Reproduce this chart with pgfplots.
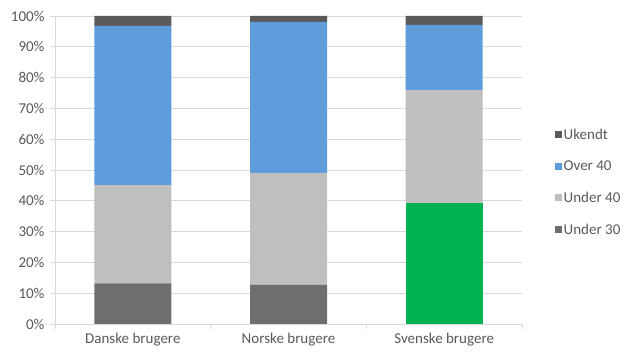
\documentclass[border=0pt]{standalone}
\usepackage{pgfplots}
\pgfplotsset{compat=1.18}
\usepackage{fontspec}
\setmainfont{Carlito}
\definecolor{txt}{HTML}{595959}
\definecolor{dgray}{HTML}{6E6E6E}
\definecolor{ukgray}{HTML}{5A5A5A}
\definecolor{lgray}{HTML}{BFBFBF}
\definecolor{blu}{HTML}{5E9CDB}
\definecolor{grn}{HTML}{00B352}
\definecolor{gridc}{HTML}{D9D9D9}
\begin{document}
\begin{tikzpicture}
\path[use as bounding box] (-55pt,-31pt) rectangle (576pt,324pt);
\begin{axis}[
  at={(0pt,0pt)}, anchor=south west,
  scale only axis, width=467pt, height=308pt,
  ybar stacked, bar width=77pt,
  xmin=-0.5, xmax=2.5, ymin=0, ymax=100,
  xtick={0,1,2},
  xticklabels={Danske brugere, Norske brugere, Svenske brugere},
  minor xtick={-0.5,0.5,1.5,2.5},
  ytick={0,10,...,100},
  yticklabel={\pgfmathprintnumber{\tick}\%},
  /pgf/number format/assume math mode=true,
  axis x line*=bottom, axis y line*=left,
  axis line style={draw=gridc, line width=0.8pt},
  tick align=outside,
  major x tick style={draw=none},
  minor x tick style={draw=gridc, line width=0.8pt},
  major y tick style={draw=gridc, line width=0.8pt},
  major tick length=5pt, minor tick length=5pt,
  ymajorgrids, grid style={draw=gridc, line width=0.8pt},
  tick label style={font=\fontsize{15}{18}\selectfont, text=txt},
  yticklabel style={xshift=-2pt},
  xticklabel style={yshift=-1pt},
  legend style={at={(1,0.46)}, anchor=west, xshift=30pt, draw=none, fill=none,
    font=\fontsize{15}{18}\selectfont, text=txt, row sep=16pt,
    /tikz/every even column/.append style={column sep=0pt},
    nodes={inner xsep=1.5pt}},
  legend cell align=left,
  reverse legend,
  legend image code/.code={\fill[#1] (0pt,-3.5pt) rectangle (7pt,3.5pt);},
  every axis plot/.append style={draw=none},
]
\addplot[fill=dgray] coordinates {(0,13.2) (1,12.7) (2,0)};
\addlegendentry{Under 30}
\addplot[fill=grn, forget plot] coordinates {(0,0) (1,0) (2,39.2)};
\addplot[fill=lgray] coordinates {(0,31.9) (1,36.4) (2,36.8)};
\addlegendentry{Under 40}
\addplot[fill=blu] coordinates {(0,51.7) (1,49.0) (2,21.1)};
\addlegendentry{Over 40}
\addplot[fill=ukgray] coordinates {(0,3.2) (1,1.9) (2,2.9)};
\addlegendentry{Ukendt}
\end{axis}
\end{tikzpicture}
\end{document}
